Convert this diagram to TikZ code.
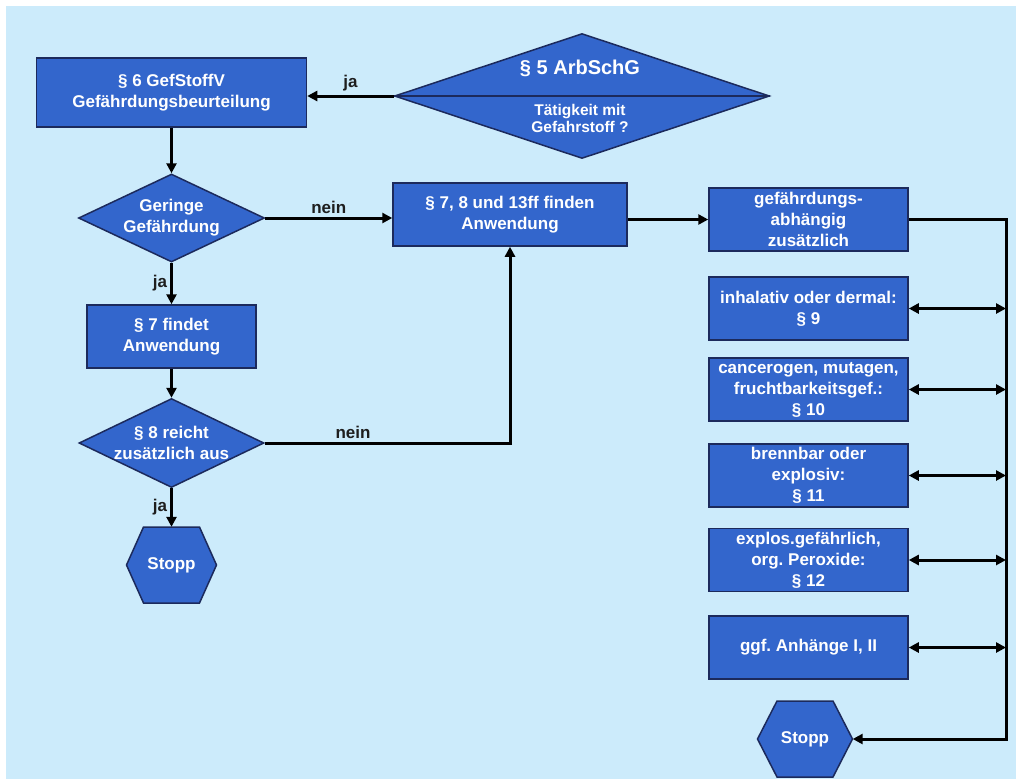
\documentclass[tikz,border=0pt]{standalone}
\usepackage{fontspec}
\setmainfont{Liberation Sans}
\usetikzlibrary{shapes.geometric,arrows.meta}
\definecolor{kastenblau}{HTML}{3366CC}
\definecolor{hintergrund}{HTML}{CCEBFB}
\definecolor{rand}{HTML}{1C2A5C}
\definecolor{marken}{HTML}{1E1E1E}
\frenchspacing

\begin{document}
\begin{tikzpicture}[x=1pt,y=-1pt,>={Triangle[length=10pt,width=10pt]},
  kasten/.style={draw=rand,line width=1.5pt,fill=kastenblau,text=white,align=center,
    font=\bfseries\fontsize{17}{21}\selectfont,inner sep=0pt},
  raute/.style={kasten,diamond},
  schrift/.style={text=white,align=center,font=\bfseries\fontsize{17}{21}\selectfont,inner sep=0pt},
  marke/.style={text=marken,font=\bfseries\fontsize{17}{21}\selectfont,inner sep=3pt},
  linie/.style={draw,line width=3pt}]
\newcommand\sechseck[4]{
\filldraw[kasten] (#2-#4,#3) -- (#2-28,#3-38) -- (#2+28,#3-38) -- (#2+#4,#3)
  -- (#2+28,#3+38) -- (#2-28,#3+38) -- cycle;
\node[schrift,minimum width=2*#4,minimum height=76] (#1) at (#2,#3) {Stopp};
}
\useasboundingbox (0,0) rectangle (1016,780);
\fill[white] (0,0) rectangle (1016,780);
\fill[hintergrund] (6,6) rectangle (1016,779);

% Einstieg
\node[raute,minimum width=375,minimum height=125] (1) at (582,96) {};
\draw[rand,line width=1.5pt] (1.west) -- (1.east);
\node[schrift,font=\bfseries\fontsize{20}{24}\selectfont] (1a) at (580,68) {§ 5 ArbSchG};
\node[schrift,font=\bfseries\fontsize{15.5}{17}\selectfont] (1b) at (580,118) {Tätigkeit mit\\Gefahrstoff ?};
\node[kasten,minimum width=270,minimum height=69] (2) at (171.5,92.5) {§ 6 GefStoffV\\Gefährdungsbeurteilung};

% linke Spalte
\node[raute,minimum width=186,minimum height=88] (3) at (171.5,218) {};
\node[schrift] (3a) at (171.5,218) {Geringe\\Gefährdung};
\node[kasten,minimum width=234,minimum height=63] (4) at (510,214.5) {§ 7, 8 und 13ff finden\\Anwendung};
\node[kasten,minimum width=169,minimum height=63] (5) at (171.5,336.5) {§ 7 findet\\Anwendung};
\node[raute,minimum width=185,minimum height=89] (6) at (171.5,443) {};
\node[schrift] (6a) at (171.5,443) {§ 8 reicht\\zusätzlich aus};
\sechseck{7}{171.5}{565}{45}

% rechte Spalte
\node[kasten,minimum width=199,minimum height=63] (8) at (808.5,219.5) {gefährdungs-\\abhängig\\zusätzlich};
\node[kasten,minimum width=199,minimum height=63] (9) at (808.5,308.5) {inhalativ oder dermal:\\§ 9};
\node[kasten,minimum width=199,minimum height=63] (10) at (808.5,389.5) {cancerogen, mutagen,\\fruchtbarkeitsgef.:\\§ 10};
\node[kasten,minimum width=199,minimum height=63] (11) at (808.5,475.5) {brennbar oder\\explosiv:\\§ 11};
\node[kasten,minimum width=199,minimum height=63] (12) at (808.5,560) {explos.gefährlich,\\org. Peroxide:\\§ 12};
\node[kasten,minimum width=199,minimum height=63] (13) at (808.5,647.5) {ggf. Anhänge I, II};
\sechseck{14}{805}{739}{47.5}
\coordinate (rechts) at (1006,739);

% Verbindungen
\path[linie,->] (1.west) -- (1.west -| 2.east) node[marke,midway,above] (ja1) {ja};
\path[linie,->] (2.south) -- (3.north);
\path[linie,->] (3.east) -- (3.east -| 4.west) node[marke,midway,above] (nein1) {nein};
\path[linie,->] (3.south) -- (5.north) node[marke,midway,left] (ja2) {ja};
\path[linie,->] (5.south) -- (6.north);
\path[linie,->] (6.east) -| (4.south) node[marke,pos=0.18,above] (nein2) {nein};
\path[linie,->] (6.south) -- (7.north) node[marke,midway,left] (ja3) {ja};
\path[linie,->] (4.east |- 8.west) -- (8.west);
\path[linie,->] (8.east) -| (rechts) -- (14.east);
\foreach \n in {9,...,13}
  \path[linie,<->] (\n.east) -- (\n.east -| rechts);
\end{tikzpicture}
\end{document}
